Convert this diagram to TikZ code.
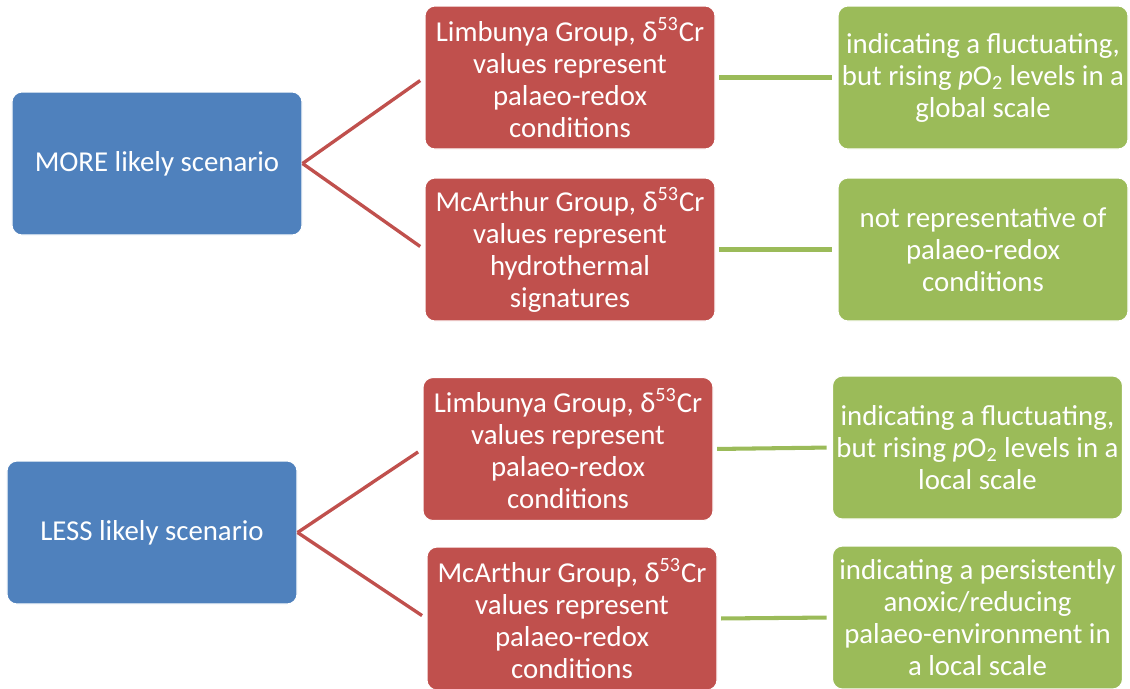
\documentclass[tikz,border=0pt]{standalone}
\usepackage{fontspec}
\setmainfont{Carlito}
\usepackage{xcolor}
\usetikzlibrary{positioning}
\definecolor{scenblue}{HTML}{4F81BD}
\definecolor{grpred}{HTML}{C0504D}
\definecolor{resgreen}{HTML}{9BBB59}

\begin{document}
\begin{tikzpicture}[
	box/.style={rectangle, draw=white, line width=0.6pt, rounded corners=0.2cm,
		minimum width=5.8cm, minimum height=2.86cm, align=center, text=white,
		inner sep=1pt, font=\fontsize{16.4}{18.2}\selectfont},
	scenario/.style={box, fill=scenblue},
	group/.style={box, fill=grpred},
	result/.style={box, fill=resgreen},
	redline/.style={draw=grpred, line width=1.9pt, shorten >=3pt},
	greenline/.style={draw=resgreen, line width=2.3pt, shorten <=2pt, shorten >=3pt}
	]
	\useasboundingbox (0,0) rectangle (22.6,-13.76);
	% --- MORE likely scenario ---
	\node[scenario] (more) at (3.14,-3.27) {MORE likely scenario};
	\node[group] (limA) at (11.40,-1.55) {Limbunya Group, δ\textsuperscript{53}Cr\\ values represent\\ palaeo-redox\\ conditions};
	\node[group] (mcaA) at (11.40,-4.99) {McArthur Group, δ\textsuperscript{53}Cr\\ values represent\\ hydrothermal\\ signatures};
	\node[result] (globA) at (19.66,-1.55) {indicating a fluctuating,\\ but rising \textit{p}O\textsubscript{2} levels in a\\ global scale};
	\node[result] (notA) at (19.66,-4.99) {not representative of\\ palaeo-redox\\ conditions};
	\draw[redline] (more.east) -- (limA.west);
	\draw[redline] (more.east) -- (mcaA.west);
	\draw[greenline] (limA.east) -- (globA.west);
	\draw[greenline] (mcaA.east) -- (notA.west);

	% --- LESS likely scenario ---
	\node[scenario] (less) at (3.04,-10.65) {LESS likely scenario};
	\node[group] (limB) at (11.36,-8.98) {Limbunya Group, δ\textsuperscript{53}Cr\\ values represent\\ palaeo-redox\\ conditions};
	\node[group] (mcaB) at (11.44,-12.37) {McArthur Group, δ\textsuperscript{53}Cr\\ values represent\\ palaeo-redox\\ conditions};
	\node[result] (locB) at (19.55,-8.95) {indicating a fluctuating,\\ but rising \textit{p}O\textsubscript{2} levels in a\\ local scale};
	\node[result] (anoxB) at (19.55,-12.35) {indicating a persistently\\ anoxic/reducing\\ palaeo-environment in\\ a local scale};
	\draw[redline] (less.east) -- (limB.west);
	\draw[redline] (less.east) -- (mcaB.west);
	\draw[greenline] (limB.east) -- (locB.west);
	\draw[greenline] (mcaB.east) -- (anoxB.west);
\end{tikzpicture}
\end{document}
